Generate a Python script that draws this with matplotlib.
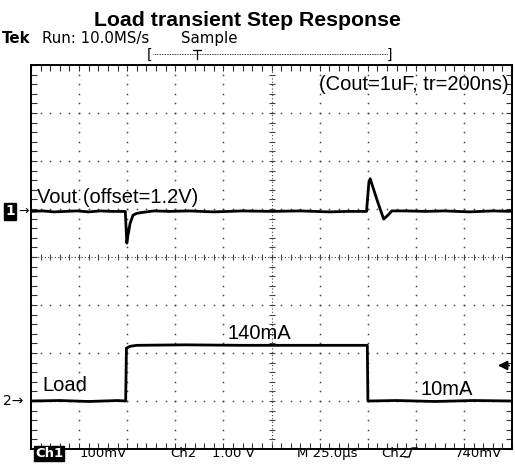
import matplotlib
matplotlib.use("Agg")
import matplotlib.pyplot as plt
import numpy as np
from matplotlib.ticker import MultipleLocator

# scope settings
time_per_div = 25.0          # us
ch1_scale = 100.0            # mV/div
ch1_pos = 0.95               # div above centre
ch2_scale = 1.0              # V/div
ch2_pos = -3.0               # div
trig_level = 0.74            # V on ch2

# Vout deviation from 1.2V offset (mV)
vout_t = [0, 6, 12, 18, 24, 30, 36, 42, 47, 49.0, 49.8, 50.4, 51.5, 53.0, 55.0, 58, 64,
          72, 82, 95, 110, 125, 140, 155, 165, 172, 174.4, 175.6, 176.3, 180.0, 183.3,
          185.5, 187.5, 195, 205, 215, 228, 240, 250]
vout_mv = [0, 1, -1, 0, 1, -1, 1, 0, 0, 0, -66, -50, -25, -8, -4, -2, 1,
           0, 1, -1, 1, 0, 1, -1, 0, 0, 0, 60, 68, 22, -16,
           -8, 1, 1, 0, 1, -1, 1, 0]

# load channel (V on ch2, 1V/div)
load_t = [0, 15, 30, 45, 49.2, 49.6, 51.5, 55, 80, 110, 140, 170, 174.8, 175.1, 190, 210, 230, 250]
load_v = [0, 0.01, -0.01, 0.01, 0, 1.10, 1.14, 1.16, 1.17, 1.16, 1.16, 1.16, 1.16, 0, 0.01, -0.01, 0.01, 0]

W, H = 515, 465
fig = plt.figure(figsize=(W / 100, H / 100), dpi=100)
fx = lambda x: x / W
fy = lambda y: 1 - y / H

pos = [fx(31), fy(449), 481 / W, 384 / H]
ax = fig.add_axes(pos)
ax.set_xlim(0, 10 * time_per_div)
ax.set_ylim(-4, 4)

# graticule
dot = dict(ls="none", marker="s", ms=1.1, mew=0, color="#444444")
for i in range(1, 10):
    if i == 5:
        continue
    ax.plot([i * time_per_div] * 41, np.linspace(-4, 4, 41), **dot)
for j in range(-3, 4):
    if j == 0:
        continue
    ax.plot(np.linspace(0, 250, 51), [j] * 51, **dot)
# centre lines
ax.axhline(0, color="#444444", lw=0.8, ls=(0, (1, 2)))
ax.axvline(125, color="#444444", lw=0.8, ls=(0, (1, 2)))
ax.plot(np.linspace(0, 250, 51), [0] * 51, ls="none", marker="|", ms=5, mew=0.8, color="#444444")
ax.plot([125] * 41, np.linspace(-4, 4, 41), ls="none", marker="_", ms=5, mew=0.8, color="#444444")

ax.xaxis.set_minor_locator(MultipleLocator(5))
ax.xaxis.set_major_locator(MultipleLocator(25))
ax.yaxis.set_minor_locator(MultipleLocator(0.2))
ax.yaxis.set_major_locator(MultipleLocator(1))
ax.tick_params(which="both", direction="in", top=True, right=True, labelbottom=False, labelleft=False,
               length=4, width=0.8, color="#333333")
for s in ax.spines.values():
    s.set_linewidth(1.4)

# channel 1 trace
ax1 = fig.add_axes(pos)
ax1.set_xlim(0, 10 * time_per_div)
ax1.set_ylim(-(4 + ch1_pos) * ch1_scale, (4 - ch1_pos) * ch1_scale)
ax1.axis("off")
ax1.plot(vout_t, vout_mv, color="black", lw=2.0)

# channel 2 trace
ax2 = fig.add_axes(pos)
ax2.set_xlim(0, 10 * time_per_div)
ax2.set_ylim(-(4 + ch2_pos) * ch2_scale, (4 - ch2_pos) * ch2_scale)
ax2.axis("off")
ax2.plot(load_t, load_v, color="black", lw=2.0)

# trigger arrow
ax2.annotate("", xy=(0.965, trig_level), xycoords=("axes fraction", "data"),
             xytext=(1.0, trig_level), textcoords=("axes fraction", "data"),
             arrowprops=dict(arrowstyle="-|>", color="black", lw=1.2, mutation_scale=14),
             annotation_clip=False)

# channel markers
ax1.text(-0.054, 0, "1", transform=ax1.get_yaxis_transform(), color="white", fontsize=10,
         fontweight="bold", va="center", ha="left", family="DejaVu Sans",
         bbox=dict(boxstyle="square,pad=0.1", fc="black", ec="black"))
ax1.text(-0.027, 0, "→", transform=ax1.get_yaxis_transform(), color="black", fontsize=9,
         va="center", ha="left", family="DejaVu Sans")
ax2.text(-0.058, 0, "2→", transform=ax2.get_yaxis_transform(), color="black", fontsize=10,
         va="center", ha="left", family="DejaVu Sans")

# annotations on screen
lab = dict(family="Liberation Sans", fontsize=14.5, va="baseline")
ax.text(3.1, 1.12, "Vout (offset=1.2V)", ha="left", **lab)
ax.text(248.5, 3.48, "(Cout=1uF, tr=200ns)", ha="right", **lab)
ax.text(102, -1.71, "140mA", ha="left", **lab)
ax.text(202.5, -2.87, "10mA", ha="left", **lab)
ax.text(5.7, -2.80, "Load", ha="left", **lab)

# header
fig.text(fx(247), fy(26), "Load transient Step Response", ha="center", va="baseline",
         family="Liberation Sans", fontweight="bold", fontsize=15.3)
hdr = dict(family="DejaVu Sans", fontsize=10.8, va="baseline")
fig.text(fx(2), fy(43), "Tek", fontweight="bold", **hdr)
fig.text(fx(42), fy(43), "Run: 10.0MS/s", **hdr)
fig.text(fx(181), fy(43), "Sample", **hdr)
fig.text(fx(147), fy(59), "[", family="DejaVu Sans", fontsize=10, va="baseline")
fig.text(fx(387), fy(59), "]", family="DejaVu Sans", fontsize=10, va="baseline")
fig.add_artist(plt.Line2D([fx(153), fx(387)], [fy(54), fy(54)], color="black", lw=0.6, ls=(0, (1, 1))))
fig.add_artist(plt.Line2D([fx(193), fx(201)], [fy(50), fy(50)], color="black", lw=0.9))
fig.add_artist(plt.Line2D([fx(197), fx(197)], [fy(50), fy(59)], color="black", lw=0.9))

# status line
st = dict(family="DejaVu Sans", fontsize=9.5, va="baseline")
fig.text(fx(35), fy(457), "Ch1", color="white", fontweight="bold",
         bbox=dict(boxstyle="square,pad=0.1", fc="black", ec="black"), **st)
fig.text(fx(80), fy(457), "100mV", **st)
fig.text(fx(170), fy(457), "Ch2", **st)
fig.text(fx(212), fy(457), "1.00 V", **st)
fig.text(fx(297), fy(457), "M 25.0µs", **st)
fig.text(fx(381), fy(457), "Ch2", **st)
fig.add_artist(plt.Line2D([fx(405), fx(409), fx(412), fx(417)], [fy(457), fy(457), fy(448), fy(448)],
                          color="black", lw=1.0))
fig.text(fx(455), fy(457), "740mV", **st)

fig.savefig("out.png", dpi=100)
